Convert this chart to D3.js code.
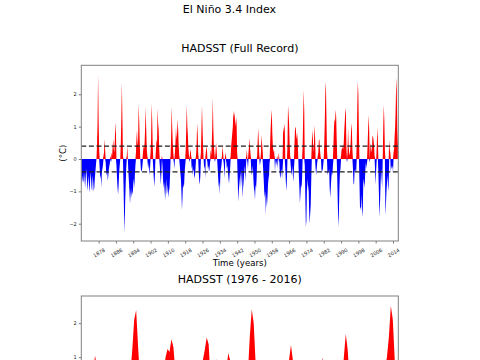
<!DOCTYPE html>
<html>
<head>
<meta charset="utf-8">
<script src="https://cdn.jsdelivr.net/npm/d3@7"></script>
<style>
html, body { margin: 0; padding: 0; overflow: hidden; background: #fff; }
svg { display: block; font-family: "DejaVu Sans", sans-serif; }
</style>
</head>
<body>
<script>
// ---------------- data (quarterly samples) ----------------
const suptitle = "El Niño 3.4 Index";
const panelTitles = ["HADSST (Full Record)", "HADSST (1976 - 2016)"];
const xLabel = "Time (years)";
const yLabel = "(°C)";
const startYear = 1870;
const stepYears = 0.25;

const hadsst1870_1899 = [
  -0.6, -0.8, -0.5, -0.7,   -0.7, -0.4, -0.6, -0.9,   -0.6, -0.3, -0.5, -0.8,
  -1.0, -0.5, -0.7, -1.05,  -0.8, -0.4, -0.6, -0.9,   -1.0, -0.5, -0.7, -1.0,
  -0.9, -0.6, -0.4, -0.2,    0.0, 0.4, 1.1, 2.63,      1.2, 0.3, -0.3, -0.6,
  -0.5, -0.88, -0.4, -0.3,  -0.2, 0.1, 0.2, 0.62,      0.3, -0.1, -0.4, -0.5,
  -0.4, -0.67, -0.5, -0.3,  -0.2, -0.1, 0.1, -0.1,     0.2, 0.1, 0.4, 0.6,
   0.3, 0.2, 0.6, 1.13,      0.8, -0.2, -0.6, -0.9,   -1.1, -0.8, -0.4, -0.2,
   0.0, 0.5, 1.3, 2.37,      1.2, 0.1, -0.8, -1.7,    -2.27, -1.4, -0.8, -0.3,
   0.1, 0.41, 0.0, -0.4,    -0.7, -1.0, -1.39, -1.1,  -0.9, -1.2, -1.0, -1.11,
  -0.8, -0.6, -0.9, -0.5,   -0.2, 0.2, 0.64, 0.9,      0.4, 0.6, 1.7, 1.2,
   0.5, 0.0, -0.3, -0.4,    -0.34, -0.2, 0.2, 0.4,     0.3, 0.5, 0.98, 1.6
];
const hadsst1900_1929 = [
   0.9, 0.3, 0.1, -0.2,     -0.3, -0.1, -0.5, -0.3,    0.2, 0.6, 1.72, 1.2,
   0.4, -0.3, -0.6, -0.86,  -0.5, 0.0, 0.3, 0.6,       0.5, 1.57, 1.1, 0.9,
   0.3, -0.2, -0.5, -0.8,   -0.4, 0.1, -0.2, -0.6,    -0.9, -0.7, -1.0, -1.27,
  -0.9, -0.6, -1.1, -1.0,   -0.8, -1.2, -1.0, -0.9,   -0.5, 0.1, 0.7, 1.62,
   1.0, 0.5, 0.2, -0.1,     -0.3, 0.2, 0.5, 1.0,       0.6, 0.8, 1.24, 0.9,
   0.4, 0.1, -0.2, -0.4,    -0.6, -1.0, -1.58, -1.2,  -0.75, -0.9, -0.8, -0.4,
  -0.2, 0.3, 1.0, 1.67,      1.0, 0.72, 0.3, 0.1,     -0.1, 0.2, 0.3, 0.1,
  -0.3, -0.2, -0.5, -0.3,   -0.4, -0.6, -0.5, -0.3,    0.1, 0.4, 1.1, 0.8,
   0.2, -0.4, -0.67, -0.8,  -0.5, 0.2, 0.9, 1.67,      1.0, 0.4, 0.0, -0.3,
  -0.2, -0.6, 0.2, 0.3,      0.4, -0.1, -0.3, -0.2,   -0.4, -0.3, -0.1, 0.3
];
const hadsst1930_1959 = [
   0.1, 0.4, 1.0, 1.9,       0.93, 0.4, 0.2, -0.1,     0.2, 0.5, 0.3, 0.0,
  -0.3, -0.6, -0.88, -0.7,  -1.1, -0.5, -0.3, -0.2,    0.1, 0.4, 0.2, -0.1,
  -0.3, -0.6, 0.1, 0.2,     -0.1, -0.3, -0.2, -0.4,   -0.6, -0.77, -0.5, -0.3,
   0.1, 0.4, 0.6, 0.8,       1.0, 1.5, 1.3, 1.45,      1.2, 1.0, 1.3, 1.1,
   0.2, -0.6, -1.32, -1.0,  -0.8, -0.6, -0.4, -0.9,   -0.6, -0.3, -1.2, -0.9,
  -0.7, -0.4, -0.2, -0.7,   -0.3, 0.1, 0.3, -0.1,     -0.3, 0.2, 0.4, 0.64,
   0.3, 0.1, -0.3, -0.5,    -0.4, -0.2, -0.6, -0.9,   -1.0, -1.27, -0.8, -0.9,
  -0.6, 0.1, 0.6, 0.95,      0.5, 0.1, -0.2, -0.1,     0.2, 0.74, 0.5, 0.3,
  -0.3, -0.6, -1.0, -1.2,   -1.0, -1.73, -1.1, -1.5,  -1.2, -0.8, -0.6, -0.5,
  -0.1, 0.5, 1.0, 1.3,       1.52, 0.8, 0.4, 0.2,      0.3, 0.1, -0.4, 0.0
];
const hadsst1960_1989 = [
  -0.2, -0.1, 0.1, -0.3,     0.0, 0.2, -0.1, -0.5,    -0.6, -0.4, -0.3, -0.6,
  -0.3, 1.0, 0.8, 1.1,       0.9, -0.3, -0.7, -1.0,   -0.6, 0.4, 1.67, 1.4,
   1.1, 0.5, 0.1, -0.2,     -0.4, -0.5, -0.2, -0.5,   -0.7, -0.3, 0.5, 0.95,
   1.0, 0.8, 0.6, 0.8,       0.5, 0.0, -0.5, -0.9,    -1.37, -1.1, -0.8, -0.9,
  -0.6, 0.4, 1.3, 2.14,      1.5, -0.2, -1.2, -2.1,   -1.9, -0.9, -0.6, -1.0,
  -0.8, -1.6, -2.0, -1.7,   -1.4, -0.6, 0.5, 0.9,      0.6, 0.2, 0.5, 1.05,
   0.7, -0.3, -0.5, -0.3,   -0.1, 0.1, 0.2, 0.59,      0.6, 0.3, 0.1, 0.0,
  -0.4, -0.3, -0.4, -0.2,    0.0, 0.5, 1.2, 2.1,       2.39, 1.3, 0.3, -0.5,
  -0.4, -0.4, -0.3, -0.9,   -1.2, -0.9, -0.6, -0.4,   -0.5, -0.2, 0.5, 1.0,
   1.24, 1.15, 1.53, 1.3,    0.6, -0.6, -1.4, -2.1,   -1.7, -0.9, -0.4, -0.3
];
const hadsst1990_2016 = [
   0.1, 0.3, 0.3, 0.4,       0.3, 0.5, 0.9, 1.2,       1.58, 1.38, 0.3, -0.1,
   0.2, 0.96, 0.4, 0.2,      0.1, 0.3, 0.6, 1.12,      0.9, 0.3, -0.3, -0.75,
  -0.8, -0.4, -0.3, -0.4,   -0.4, 0.5, 1.6, 2.41,      2.0, 0.8, -0.7, -1.5,
  -1.5, -1.6, -1.1, -1.6,   -1.8, -0.8, -0.6, -0.9,   -0.7, -0.3, -0.1, -0.3,
  -0.1, 0.4, 0.9, 1.36,      0.9, -0.1, 0.3, 0.5,      0.3, 0.2, 0.7, 0.7,
   0.6, 0.4, 0.1, -0.4,     -0.8, -0.3, 0.4, 0.99,     0.6, -0.4, -1.1, -1.8,
  -1.4, -0.8, -0.3, -0.6,   -0.9, 0.0, 1.0, 1.68,      1.2, 0.3, -1.75, -1.4,
  -1.0, -0.7, -0.5, -1.0,   -0.8, 0.59, 0.3, 0.2,     -0.4, -0.2, -0.3, -0.2,
  -0.4, 0.2, 0.3, 0.7,       1.0, 1.6, 2.51, 2.1,      0.9, 0.4
];

const fullTickYears = [1878, 1886, 1894, 1902, 1910, 1918, 1926, 1934, 1942,
                       1950, 1958, 1966, 1974, 1982, 1990, 1998, 2006, 2014];
const recentTickYears = [1976, 1980, 1984, 1988, 1992, 1996, 2000, 2004, 2008, 2012, 2016];
const yTickValues = [-2, -1, 0, 1, 2];
const thresholds = [0.4, -0.4];

// ---------------- build ----------------
const values = [].concat(hadsst1870_1899, hadsst1900_1929, hadsst1930_1959,
                         hadsst1960_1989, hadsst1990_2016);
const series = values.map((v, i) => ({ t: startYear + i * stepYears, v: v }));

const W = 480, H = 360;
const svg = d3.select("body").append("svg").attr("width", W).attr("height", H);

svg.append("text").attr("x", 229.5).attr("y", 12.5)
  .attr("text-anchor", "middle").attr("font-size", 11).attr("fill", "#000")
  .text(suptitle);

const panels = [
  { title: panelTitles[0], data: series, xDomain: [1870, 2016.45], yDomain: [-2.535, 2.896],
    box: { l: 81.3, r: 398.3, t: 65.3, b: 241 }, ticks: fullTickYears },
  { title: panelTitles[1], data: series.filter(d => d.t >= 1976), xDomain: [1976, 2016.45], yDomain: [-2.41, 2.80],
    box: { l: 81.3, r: 398.3, t: 296, b: 473 }, ticks: recentTickYears }
];

const fmt = d => d < 0 ? "\u2212" + Math.abs(d) : String(d);
const inView = (yy, margin) => yy > 0 && yy < H - margin;

panels.forEach((p, idx) => {
  const x = d3.scaleLinear().domain(p.xDomain).range([p.box.l, p.box.r]);
  const y = d3.scaleLinear().domain(p.yDomain).range([p.box.b, p.box.t]);
  const g = svg.append("g");
  const clipId = "clip" + idx;
  g.append("clipPath").attr("id", clipId).append("rect")
    .attr("x", p.box.l).attr("y", p.box.t)
    .attr("width", p.box.r - p.box.l).attr("height", p.box.b - p.box.t);

  const plot = g.append("g").attr("clip-path", `url(#${clipId})`);
  const redArea = d3.area().x(d => x(d.t)).y0(y(0)).y1(d => y(Math.max(d.v, 0)));
  const blueArea = d3.area().x(d => x(d.t)).y0(y(0)).y1(d => y(Math.min(d.v, 0)));
  plot.append("path").datum(p.data).attr("d", redArea).attr("fill", "#ff0000");
  plot.append("path").datum(p.data).attr("d", blueArea).attr("fill", "#0000ff");

  thresholds.forEach(th => {
    plot.append("line")
      .attr("x1", p.box.l).attr("x2", p.box.r)
      .attr("y1", y(th)).attr("y2", y(th))
      .attr("stroke", "#1e1e1e").attr("stroke-width", 1.3)
      .attr("stroke-dasharray", "5,2.6");
  });

  // y axis (only the ticks that fall inside the visible window)
  const yTicksShown = yTickValues.filter(v => inView(y(v), 1.5));
  const yAxis = g.append("g").attr("transform", `translate(${p.box.l},0)`)
    .call(d3.axisLeft(y).tickValues(yTicksShown).tickSize(2.5).tickPadding(2).tickFormat(fmt));
  yAxis.select(".domain").remove();
  yAxis.selectAll("line").attr("stroke", "#444").attr("stroke-width", 0.7);
  yAxis.selectAll("text").attr("font-size", 5).attr("fill", "#222")
    .attr("font-family", "DejaVu Sans, sans-serif");

  // x axis (only when it is inside the visible window)
  if (inView(p.box.b + 16, 4)) {
    const xAxis = g.append("g").attr("transform", `translate(0,${p.box.b})`)
      .call(d3.axisBottom(x).tickValues(p.ticks).tickSize(2.5).tickFormat(d3.format("d")));
    xAxis.select(".domain").remove();
    xAxis.selectAll("line").attr("stroke", "#444").attr("stroke-width", 0.7);
    xAxis.selectAll("text")
      .attr("font-size", 5).attr("fill", "#222")
      .attr("font-family", "DejaVu Sans, sans-serif")
      .attr("text-anchor", "middle").attr("dominant-baseline", "central")
      .attr("y", 0).attr("dy", null)
      .attr("transform", "translate(0,11.5) rotate(-30)");
    g.append("text").attr("x", (p.box.l + p.box.r) / 2).attr("y", p.box.b + 24.5)
      .attr("text-anchor", "middle").attr("font-size", 8.6).attr("fill", "#000")
      .text(xLabel);
  }

  // frame
  g.append("rect").attr("x", p.box.l).attr("y", p.box.t)
    .attr("width", p.box.r - p.box.l).attr("height", p.box.b - p.box.t)
    .attr("fill", "none").attr("stroke", "#808080").attr("stroke-width", 1);

  // titles and labels
  const cx = (p.box.l + p.box.r) / 2;
  g.append("text").attr("x", cx).attr("y", p.box.t - 13.3)
    .attr("text-anchor", "middle").attr("font-size", 11).attr("fill", "#000")
    .text(p.title);
  const cy = (p.box.t + p.box.b) / 2;
  if (inView(cy + 10, 4)) {
    g.append("text")
      .attr("transform", `translate(${p.box.l - 18.5},${cy}) rotate(-90)`)
      .attr("text-anchor", "middle").attr("dominant-baseline", "central")
      .attr("font-size", 8.6).attr("fill", "#000").text(yLabel);
  }
});
</script>
</body>
</html>
